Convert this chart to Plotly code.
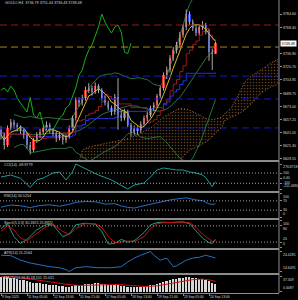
import numpy as np
import pandas as pd
import plotly.graph_objects as go

# ---------------- data ----------------
title_text = "GOLD#,H4  3736.79 3751.44 3736.43 3749.48"
last_price = 3749.48

open_ = [3645.0, 3638.5, 3626.4, 3646.9, 3654.2, 3650.5, 3646.9, 3644.5, 3638.5, 3626.4,
         3620.3, 3632.4, 3638.5, 3642.1, 3646.9, 3650.5, 3644.5, 3640.9, 3634.8, 3638.5,
         3632.4, 3636.0, 3646.9, 3659.0, 3680.7, 3677.1, 3683.1, 3692.8, 3695.2, 3690.4,
         3697.6, 3692.8, 3683.1, 3677.1, 3671.1, 3666.2, 3684.0, 3662.6, 3659.0, 3666.2,
         3650.5, 3642.1, 3646.9, 3644.5, 3651.7, 3659.0, 3662.6, 3671.1, 3674.7, 3685.6,
         3695.2, 3710.9, 3717.0, 3731.5, 3741.1, 3747.2, 3759.2, 3768.9, 3784.6, 3774.9,
         3767.7, 3761.6, 3768.9, 3771.3, 3762.8, 3738.5, 3736.79]
high_ = [3649.0, 3641.0, 3650.0, 3658.0, 3657.0, 3653.0, 3650.0, 3647.0, 3641.0, 3630.0,
         3635.0, 3642.0, 3646.0, 3650.0, 3655.0, 3653.0, 3647.0, 3643.0, 3642.0, 3640.0,
         3639.0, 3650.0, 3662.0, 3684.0, 3684.0, 3687.0, 3697.0, 3701.0, 3698.0, 3702.0,
         3700.0, 3695.0, 3686.0, 3680.0, 3674.0, 3688.0, 3707.0, 3668.0, 3670.0, 3669.0,
         3653.0, 3650.0, 3649.0, 3655.0, 3662.0, 3666.0, 3674.0, 3678.0, 3688.0, 3698.0,
         3714.0, 3721.0, 3735.0, 3745.0, 3751.0, 3763.0, 3772.0, 3790.0, 3788.0, 3778.0,
         3771.0, 3772.0, 3776.0, 3774.0, 3766.0, 3743.0, 3751.44]
low_ = [3633.0, 3621.0, 3624.0, 3644.0, 3646.0, 3643.0, 3640.0, 3634.0, 3622.0, 3615.0,
        3618.0, 3629.0, 3635.0, 3639.0, 3644.0, 3641.0, 3637.0, 3630.0, 3632.0, 3627.0,
        3629.0, 3634.0, 3644.0, 3656.0, 3673.0, 3674.0, 3680.0, 3689.0, 3686.0, 3688.0,
        3689.0, 3680.0, 3674.0, 3668.0, 3662.0, 3663.0, 3645.0, 3655.0, 3656.0, 3648.0,
        3636.0, 3638.0, 3639.0, 3641.0, 3649.0, 3655.0, 3660.0, 3667.0, 3672.0, 3683.0,
        3692.0, 3706.0, 3714.0, 3728.0, 3737.0, 3744.0, 3756.0, 3765.0, 3771.0, 3764.0,
        3758.0, 3759.0, 3765.0, 3760.0, 3728.0, 3717.0, 3736.43]
close_ = [3638.5, 3626.4, 3646.9, 3654.2, 3650.5, 3646.9, 3644.5, 3638.5, 3626.4, 3620.3,
          3632.4, 3638.5, 3642.1, 3646.9, 3650.5, 3644.5, 3640.9, 3634.8, 3638.5, 3632.4,
          3636.0, 3646.9, 3659.0, 3680.7, 3677.1, 3683.1, 3692.8, 3695.2, 3690.4, 3697.6,
          3692.8, 3683.1, 3677.1, 3671.1, 3666.2, 3684.0, 3662.6, 3659.0, 3666.2, 3650.5,
          3642.1, 3646.9, 3644.5, 3651.7, 3659.0, 3662.6, 3671.1, 3674.7, 3685.6, 3695.2,
          3710.9, 3717.0, 3731.5, 3741.1, 3747.2, 3759.2, 3768.9, 3784.6, 3774.9, 3767.7,
          3761.6, 3768.9, 3771.3, 3762.8, 3738.5, 3736.8, 3749.48]

x_labels = ["9 Sep 2025", "11 Sep 05:00", "12 Sep 13:00", "15 Sep 21:00", "17 Sep 05:00",
            "18 Sep 13:00", "19 Sep 21:00", "23 Sep 05:00", "24 Sep 13:00"]
x_label_bars = [0, 8, 16, 24, 32, 40, 48, 56, 64]

price_ticks = [3784.60, 3768.40, 3736.90, 3720.70, 3704.95, 3688.75, 3673.00,
               3657.25, 3641.05, 3625.30, 3609.55]

level_prices = [3771.3, 3744.7, 3709.7, 3682.0, 3647.0]
level_colors = ["#9a1818", "#a48a16", "#1818d0", "#1818d0", "#1818d0"]

# Ichimoku cloud (shifted 26 bars forward)
cloud_bars = [23, 25, 27, 33, 40, 46, 50, 55, 58, 61, 64, 66, 68, 69, 71, 73, 75, 77, 80, 83, 86]
cloud_top = [3590.2, 3620.3, 3624.0, 3628.8, 3634.8, 3646.9, 3660.2, 3671.1, 3668.7, 3662.6,
             3656.6, 3657.8, 3660.2, 3665.0, 3672.3, 3686.8, 3702.5, 3709.7, 3717.0, 3725.4, 3731.5]
cloud_bottom = [3590.2, 3590.0, 3590.0, 3590.0, 3590.0, 3590.0, 3590.0, 3608.3, 3620.3, 3625.2,
                3632.4, 3640.9, 3648.1, 3656.6, 3660.2, 3663.8, 3668.7, 3675.9, 3689.2, 3696.4, 3701.3]

# CCI(14)
cci_bars = [0, 3, 6, 9, 11, 13, 16, 18, 20, 22, 23, 25, 28, 30, 34, 37, 39, 41, 44, 46,
            48, 50, 52, 54, 56, 58, 60, 62, 63, 64, 65, 66]
cci_vals = [23, 62, -2, -180, -35, 4, 101, 121, -35, 121, 276.87, 218, 121, 62, -35, -133,
            -211.07, -133, -94, 23, 160, 199, 179, 160, 160, 121, 101, 62, 10, -90, -165, -69.98]
cci_levels = [100, -100]
cci_ticks = [276.8718, 100, 0, -100, -211.069]
cci_ticktext = ["276.8718", "100", "0.00", "-100", "-211.0690"]
cci_anchor = ["top", "middle", "middle", "middle", "bottom"]

# RSI(14)
rsi_bars = [0, 3, 6, 9, 12, 15, 18, 21, 23, 26, 29, 32, 35, 37, 39, 41, 43, 46, 49, 52, 55,
            57, 60, 62, 64, 65, 66]
rsi_vals = [43, 52, 49, 41, 50, 53, 47, 55, 64, 67, 66, 56, 58, 48, 42, 39, 46, 56, 66, 74,
            80, 83, 74, 71, 57, 55, 56.5]
rsi_levels = [70, 30]
rsi_ticks = [100, 70, 30, 0]
rsi_ticktext = ["100", "70", "30", "0"]
rsi_anchor = ["top", "middle", "middle", "bottom"]

# Stochastic(5,3,3)
stoch_bars = [0, 2, 4, 6, 8, 11, 14, 16, 19, 21, 23, 26, 29, 31, 33, 35, 37, 39, 41, 44,
              46, 48, 50, 52, 54, 56, 58, 60, 62, 64, 65, 66]
stoch_main = [70, 88, 40, 15, 30, 65, 86, 84, 40, 50, 84, 90, 86, 60, 13, 15, 30, 20, 25, 55,
              84, 92, 94, 92, 94, 95, 88, 60, 35, 18, 15, 30.18]
stoch_signal = [60, 80, 65, 35, 25, 50, 78, 86, 60, 48, 70, 88, 88, 75, 40, 18, 22, 24, 22, 40,
                70, 88, 92, 93, 93, 94, 92, 75, 50, 30, 22, 25.89]
stoch_levels = [80, 20]
stoch_ticks = [100, 80, 20, 0]
stoch_ticktext = ["100", "80", "20", "0"]
stoch_anchor = ["top", "top", "bottom", "bottom"]

# ATR(14)
atr_bars = [0, 3, 6, 9, 12, 15, 18, 20, 21, 23, 26, 30, 34, 37, 39, 41, 43, 46, 47, 49, 51,
            53, 54, 57, 59, 61, 63, 65, 66]
atr_vals = [22.6, 22.4, 20.2, 18.8, 17.9, 17.0, 16.5, 15.6, 14.65, 16.5, 17.0, 16.5, 16.5,
            17.0, 19.3, 21.2, 22.6, 24.43, 22.6, 20.2, 21.2, 17.0, 17.4, 20.2, 21.2, 21.6,
            22.6, 21.6, 21.26]
atr_ticks = [24.4281, 14.6491]
atr_ticktext = ["24.4281", "14.6491"]
atr_anchor = ["top", "bottom"]

# MACD(12,26,9)
macd_hist = [37, 36, 35, 34, 33, 31, 29, 28, 26,
             24, 22, 21, 20, 19, 18, 17, 16,
             15, 14, 13, 12, 12, 13,
             15, 16, 17, 18, 19, 19, 20, 20,
             19, 18, 17, 16, 16, 15, 14, 13,
             12, 11, 11, 11, 12, 13, 14, 16,
             17, 19, 21, 24, 26, 28, 30, 32, 33, 34, 35,
             35, 34, 33, 32, 31, 29, 26, 22, 18.152]
sig_bars = [0, 4, 8, 12, 16, 20, 24, 28, 32, 36, 40, 44, 48, 52, 56, 59, 62, 64, 66]
sig_vals = [37.349, 36, 32.5, 27.5, 22.5, 18, 15, 16, 18, 17.5, 15, 12.5, 14, 19, 25.5, 29.5,
            31, 29, 25.011]
macd_ticks = [37.349, 0.0]
macd_ticktext = ["37.349", "0.0087"]
macd_anchor = ["top", "bottom"]

panel_labels = ["CCI(14) -69.9779", "RSI(14) 56.5254", "Stoch(5,3,3) 30.1825 25.8922",
                "ATR(14) 21.2564", "MACD(12,26,9) 18.152 25.011"]

assert len(open_) == len(high_) == len(low_) == len(close_) == len(macd_hist)

# ---------------- derived price indicators ----------------
n = len(close_)
bars = np.arange(n)
h = pd.Series(high_)
l = pd.Series(low_)
c = pd.Series(close_)
tenkan = (h.rolling(9, min_periods=1).max() + l.rolling(9, min_periods=1).min()) / 2
kijun = (h.rolling(26, min_periods=1).max() + l.rolling(26, min_periods=1).min()) / 2
bb_mid = c.rolling(20, min_periods=5).mean()
bb_sd = c.rolling(20, min_periods=5).std(ddof=0)
bb_up = bb_mid + 2 * bb_sd
bb_lo = bb_mid - 2 * bb_sd
ma_fast = c.rolling(5, min_periods=1).mean()

# ---------------- layout geometry (pixels) ----------------
PH = 293.0  # plot area height


def fr(ypx):
    return (PH - ypx) / PH


dom_main = [fr(160), 1.0]
dom_cci = [fr(191), fr(162)]
dom_rsi = [fr(218), fr(193)]
dom_sto = [fr(248), fr(220)]
dom_atr = [fr(273), fr(250)]
dom_macd = [0.0, fr(275)]
separators = [161, 192, 219, 249, 274]

FONT = "Liberation Sans"
TXT = "#d8d8d8"
FS = 3.7
FSR = 3.5
FSX = 3.3
CLOUD = "#c07838"

fig = go.Figure()

# cloud
fig.add_trace(go.Scatter(x=cloud_bars, y=cloud_bottom, mode="lines", yaxis="y", xaxis="x",
                         line=dict(color=CLOUD, width=1, dash="1px,2px"), hoverinfo="skip"))
fig.add_trace(go.Scatter(x=cloud_bars, y=cloud_top, mode="lines", yaxis="y", xaxis="x",
                         fill="tonexty", fillcolor="rgba(0,0,0,0)",
                         fillpattern=dict(shape=".", fgcolor=CLOUD, bgcolor="rgba(0,0,0,0)",
                                          size=3, solidity=0.25),
                         line=dict(color=CLOUD, width=1, dash="1px,2px"), hoverinfo="skip"))

# Bollinger bands
for s in (bb_up, bb_mid, bb_lo):
    fig.add_trace(go.Scatter(x=bars, y=s, mode="lines", line=dict(color="#2c7040", width=1),
                             yaxis="y", xaxis="x"))
# Kijun / Tenkan / fast MA
fig.add_trace(go.Scatter(x=bars, y=kijun, mode="lines", line=dict(color="#2035e0", width=1, shape="hv")))
fig.add_trace(go.Scatter(x=bars, y=tenkan, mode="lines", line=dict(color="#a01818", width=1, shape="hv")))
fig.add_trace(go.Scatter(x=bars, y=ma_fast, mode="lines", line=dict(color="#d8c020", width=1)))
# Chikou span
fig.add_trace(go.Scatter(x=bars[26:] - 26, y=close_[26:], mode="lines",
                         line=dict(color="#13b013", width=1)))

# candle wicks
wx, wy = [], []
for i in range(n):
    wx += [i, i, None]
    wy += [low_[i], high_[i], None]
fig.add_trace(go.Scatter(x=wx, y=wy, mode="lines", line=dict(color="#a8a8a8", width=1)))
# candle bodies
body_base = [min(o, cl) for o, cl in zip(open_, close_)]
body_h = [max(abs(cl - o), 0.9) for o, cl in zip(open_, close_)]
body_col = ["#f02828" if cl >= o else "#2a45f0" for o, cl in zip(open_, close_)]
fig.add_trace(go.Bar(x=bars, y=body_h, base=body_base, width=0.66,
                     marker=dict(color=body_col, line=dict(width=0)), yaxis="y", xaxis="x"))

# CCI
fig.add_trace(go.Scatter(x=cci_bars, y=cci_vals, mode="lines", yaxis="y2",
                         line=dict(color="#1f9a96", width=1)))
# RSI
fig.add_trace(go.Scatter(x=rsi_bars, y=rsi_vals, mode="lines", yaxis="y3",
                         line=dict(color="#2a6ec4", width=1)))
# Stochastic
fig.add_trace(go.Scatter(x=stoch_bars, y=stoch_main, mode="lines", yaxis="y4",
                         line=dict(color="#1f9a80", width=1)))
fig.add_trace(go.Scatter(x=stoch_bars, y=stoch_signal, mode="lines", yaxis="y4",
                         line=dict(color="#c41010", width=1)))
# ATR
fig.add_trace(go.Scatter(x=atr_bars, y=atr_vals, mode="lines", yaxis="y5",
                         line=dict(color="#2a6ec4", width=1)))
# MACD
fig.add_trace(go.Bar(x=bars, y=macd_hist, width=0.55, yaxis="y6",
                     marker=dict(color="#d8d8d8", line=dict(width=0))))
fig.add_trace(go.Scatter(x=sig_bars, y=sig_vals, mode="lines", yaxis="y6",
                         line=dict(color="#d01010", width=1)))

shapes = []
for p, col in zip(level_prices, level_colors):
    shapes.append(dict(type="line", xref="paper", x0=0, x1=1, yref="y", y0=p, y1=p,
                       line=dict(color=col, width=1, dash="7px,4px")))
for ref, levels in (("y2", cci_levels), ("y3", rsi_levels), ("y4", stoch_levels)):
    for v in levels:
        shapes.append(dict(type="line", xref="paper", x0=0, x1=1, yref=ref, y0=v, y1=v,
                           line=dict(color="#a0a0a0", width=1, dash="1px,2px")))
for ypx in separators:
    shapes.append(dict(type="line", xref="paper", x0=0, x1=1, yref="paper",
                       y0=fr(ypx), y1=fr(ypx), line=dict(color="#8c8c8c", width=2)))
shapes.append(dict(type="line", xref="paper", x0=1, x1=1, yref="paper", y0=0, y1=1,
                   line=dict(color="#8c8c8c", width=1)))

annotations = [dict(text=title_text, xref="paper", yref="paper", x=0.012, y=fr(3),
                    xanchor="left", yanchor="middle", showarrow=False,
                    font=dict(family=FONT, size=FS, color=TXT)),
               dict(text=f"{last_price:.2f}", xref="paper", yref="y", x=1, y=last_price,
                    xanchor="left", yanchor="middle", xshift=1, showarrow=False,
                    bgcolor="#ffffff", borderpad=0.6,
                    font=dict(family=FONT, size=FS, color="#000000"))]
label_y = [165, 196, 223, 253, 277.5]
for txt, ypx in zip(panel_labels, label_y):
    annotations.append(dict(text=txt, xref="paper", yref="paper", x=0.007, y=fr(ypx),
                            xanchor="left", yanchor="middle", showarrow=False,
                            font=dict(family=FONT, size=FS, color=TXT)))

# right-hand scale labels of the indicator windows
for ref, tv, tt, an in (("y2", cci_ticks, cci_ticktext, cci_anchor),
                        ("y3", rsi_ticks, rsi_ticktext, rsi_anchor),
                        ("y4", stoch_ticks, stoch_ticktext, stoch_anchor),
                        ("y5", atr_ticks, atr_ticktext, atr_anchor),
                        ("y6", macd_ticks, macd_ticktext, macd_anchor)):
    for v, t, a in zip(tv, tt, an):
        annotations.append(dict(text=t, xref="paper", yref=ref, x=1, y=v, xanchor="left",
                                yanchor=a, xshift=1.5, showarrow=False,
                                yshift=0.8 if a == "top" else (-0.8 if a == "bottom" else 0),
                                font=dict(family=FONT, size=FSR, color=TXT)))


def yax(dom, rng, tv, tt=None, labels=True):
    d = dict(domain=dom, range=rng, side="right", anchor="x", showgrid=False, zeroline=False,
             showline=False, ticks="outside", ticklen=2, tickcolor="#8c8c8c",
             tickvals=tv, ticktext=tt, showticklabels=labels,
             tickfont=dict(family=FONT, size=FS, color=TXT), fixedrange=True)
    return d


fig.update_layout(
    width=298, height=300, margin=dict(l=0, r=19, t=0, b=7),
    paper_bgcolor="#000000", plot_bgcolor="#000000", showlegend=False,
    barmode="overlay", bargap=0,
    xaxis=dict(domain=[0, 1], range=[-0.31, 85.54], anchor="y6", showgrid=False,
               zeroline=False, showline=True, linecolor="#8c8c8c", linewidth=1,
               tickvals=x_label_bars, ticktext=x_labels, ticks="outside", ticklen=2,
               tickangle=0, tickcolor="#8c8c8c", ticklabelposition="outside right",
               tickfont=dict(family=FONT, size=FSX, color=TXT)),
    yaxis=yax(dom_main, [3608.3, 3801.5], price_ticks, [f"{v:.2f}" for v in price_ticks]),
    yaxis2=yax(dom_cci, [-250.1, 315.9], cci_ticks, cci_ticktext, False),
    yaxis3=yax(dom_rsi, [-4, 104], rsi_ticks, rsi_ticktext, False),
    yaxis4=yax(dom_sto, [-1.85, 101.85], stoch_ticks, stoch_ticktext, False),
    yaxis5=yax(dom_atr, [13.915, 25.162], atr_ticks, atr_ticktext, False),
    yaxis6=yax(dom_macd, [-3.73, 41.08], macd_ticks, macd_ticktext, False),
    shapes=shapes, annotations=annotations,
)

fig.write_html("out.html")
